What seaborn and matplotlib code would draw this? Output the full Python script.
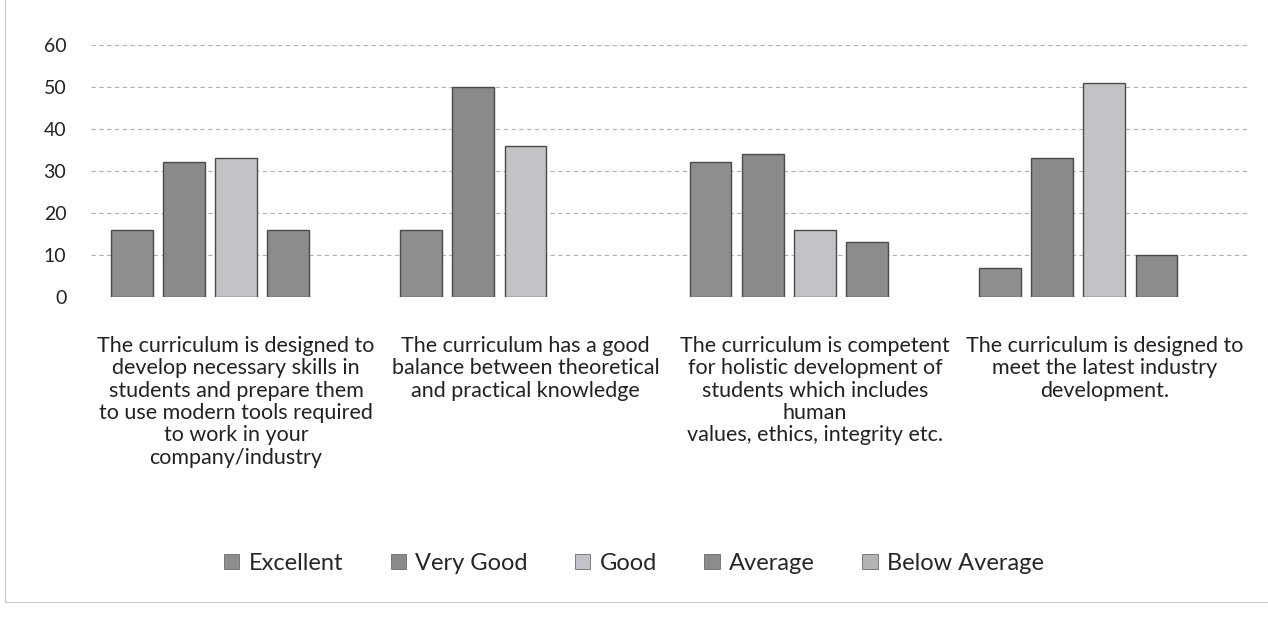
import matplotlib

matplotlib.use("Agg")
import matplotlib.pyplot as plt
import pandas as pd
import seaborn as sns
from matplotlib.patches import Rectangle

# Values (number of responses)
questions = [
    "The curriculum is designed to\ndevelop necessary skills in\nstudents and prepare them\nto use modern tools required\nto work in your\ncompany/industry",
    "The curriculum has a good\nbalance between theoretical\nand practical knowledge",
    "The curriculum is competent\nfor holistic development of\nstudents which includes\nhuman\nvalues, ethics, integrity etc.",
    "The curriculum is designed to\nmeet the latest industry\ndevelopment.",
]
ratings = ["Excellent", "Very Good", "Good", "Average", "Below Average"]
excellent = [16, 16, 32, 7]
very_good = [32, 50, 34, 33]
good = [33, 36, 16, 51]
average = [16, 0, 13, 10]
below_average = [0, 0, 0, 0]
y_ticks = [0, 10, 20, 30, 40, 50, 60]

colors = {
    "Excellent": "#8e8e8e",
    "Very Good": "#8a8a8a",
    "Good": "#c2c2c8",
    "Average": "#8c8c8c",
    "Below Average": "#b4b4b4",
}

series = [excellent, very_good, good, average, below_average]
rows = []
for rating, values in zip(ratings, series):
    for q, v in zip(questions, values):
        rows.append({"question": q, "rating": rating, "count": v})
df = pd.DataFrame(rows)

sns.set_theme(style="white")
plt.rcParams["font.family"] = ["Lato", "DejaVu Sans"]

fig = plt.figure(figsize=(12.68, 6.4), dpi=100)
ax = fig.add_axes([0.072, 0.536, 0.913, 0.394])

sns.barplot(
    data=df,
    x="question",
    y="count",
    hue="rating",
    hue_order=ratings,
    order=questions,
    palette=colors,
    width=0.9,
    gap=0.2,
    edgecolor="#4a4a4a",
    linewidth=1.0,
    legend=False,
    ax=ax,
)

# empty categories show no outline in the original
for bar in ax.patches:
    if bar.get_height() == 0:
        bar.set_linewidth(0)

ax.set_ylim(0, 60)
ax.set_yticks(y_ticks)
ax.tick_params(axis="y", labelsize=14, length=0, pad=18, colors="#222222")
ax.tick_params(axis="x", labelsize=15.5, length=0, pad=28, colors="#222222")
ax.set_xticks(range(len(questions)))
ax.set_xticklabels(questions, linespacing=1.15)
ax.set_xlabel("")
ax.set_ylabel("")
ax.grid(axis="y", color="#b0b0b0", linestyle=(0, (4, 3)), linewidth=0.8)
ax.set_axisbelow(True)
for side in ["top", "right", "left", "bottom"]:
    ax.spines[side].set_visible(False)

handles = [
    Rectangle((0, 0), 1, 1, facecolor=colors[r], edgecolor="#6a6a6a", linewidth=0.6)
    for r in ratings
]
fig.legend(
    handles,
    ratings,
    loc="center",
    bbox_to_anchor=(0.5, 0.12),
    ncol=5,
    frameon=False,
    fontsize=17,
    handlelength=0.65,
    handleheight=0.65,
    handletextpad=0.4,
    columnspacing=2.0,
)

# faint border of the chart area, as in the scan
fig.patches.append(
    Rectangle((0.004, 0.06), 1.2, 1.0, transform=fig.transFigure,
              fill=False, edgecolor="#c8c8c8", linewidth=0.8)
)

fig.savefig("out.png", dpi=100)
